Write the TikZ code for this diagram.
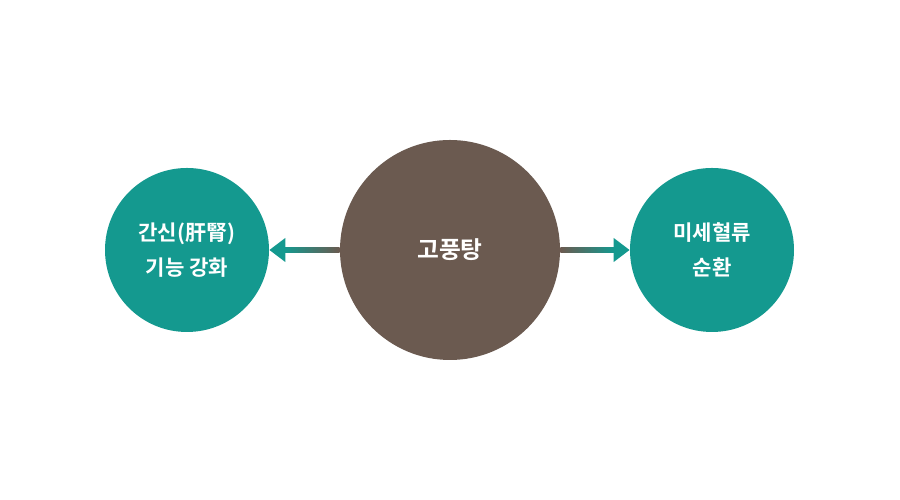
\documentclass[tikz,border=0pt]{standalone}
\usepackage{fontspec}
\setmainfont{Noto Sans CJK KR}[BoldFont={Noto Sans CJK KR Bold}]
\usepackage{tikz}
\usetikzlibrary{arrows.meta,calc}
\definecolor{hubbrown}{RGB}{107,90,80}
\definecolor{leafteal}{RGB}{20,153,143}
\begin{document}
\begin{tikzpicture}[
  hub/.style={circle,fill=hubbrown,minimum size=4.4cm,inner sep=0pt,text=white,font=\bfseries\fontsize{13.5}{16}\selectfont,align=center},
  leaf/.style={circle,fill=leafteal,minimum size=3.28cm,inner sep=0pt,text=white,font=\bfseries\fontsize{12}{20}\selectfont,align=center},
  arr/.style={-{Triangle[length=3.2mm,width=4.6mm]},line width=2.3pt,leafteal}]
\useasboundingbox[fill=white] (0,0) rectangle (18,10);
\node[hub] (gc) at (9,5) {고풍탕};
\node[leaf] (lc) at (3.74,5) {간신(肝腎)\\기능 강화};
\node[leaf] (rc) at (14.24,5) {미세혈류\\순환};
\draw[arr] (gc.west) -- (lc.east);
\draw[arr] (gc.east) -- (rc.west);
% shaft fades from brown to teal
\shade[left color=leafteal,right color=hubbrown] ($(lc.east)+(0.3,-0.041)$) rectangle ($(gc.west)+(0,0.041)$);
\shade[left color=hubbrown,right color=leafteal] ($(gc.east)+(0,-0.041)$) rectangle ($(rc.west)+(-0.3,0.041)$);
\end{tikzpicture}
\end{document}
